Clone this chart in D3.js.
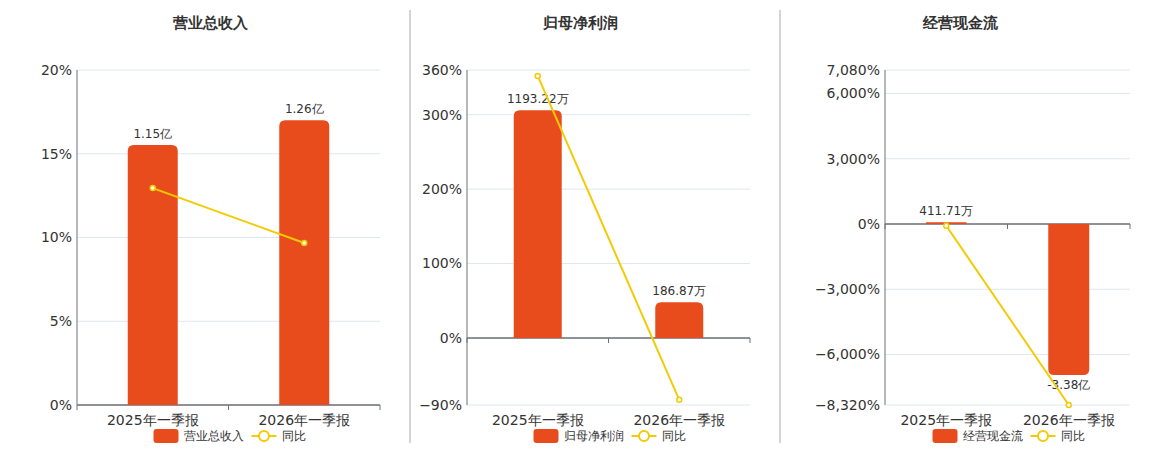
<!DOCTYPE html><html><head><meta charset="utf-8"><script src="https://cdn.jsdelivr.net/npm/d3@7"></script>
<style>body{margin:0;background:#fff;font-family:"DejaVu Sans",sans-serif}</style></head><body><svg id="c" width="1160" height="450"></svg>
<script>
const categories=["2025年一季报","2026年一季报"];
const titles=["营业总收入","归母净利润","经营现金流"];
const barValues=[[1.15e8,1.26e8],[1193.22e4,186.87e4],[411.71e4,-3.38e8]];
const barLabels=[["1.15亿","1.26亿"],["1193.22万","186.87万"],["411.71万","-3.38亿"]];
const yoyValues=[[12.95,9.67],[352,-83],[-80,-8320]];
const pctDomains=[[0,20],[-90,360],[-8320,7080]];
const pctTicks=[[0,5,10,15,20],[-90,0,100,200,300,360],[-8320,-6000,-3000,0,3000,6000,7080]];
// bar value corresponding to 1% of the percent axis
const barPerPct=[1.26e8/17,1193.22e4/306,-3.38e8/-6940];
const panels=[{x0:77,x1:380,bw:50,tx:210},{x0:467,x1:750,bw:48,tx:580},{x0:885,x1:1130,bw:41,tx:960}];
(function(){
const svg=d3.select("#c");
const yTop=70,yBot=405,barC="#e84c1c",lineC="#f2cb05";
[410,780].forEach(x=>svg.append("line").attr("x1",x).attr("x2",x).attr("y1",10).attr("y2",443).attr("stroke","#aaa"));
panels.forEach((p,i)=>{
  const g=svg.append("g");
  const y=d3.scaleLinear().domain(pctDomains[i]).range([yBot,yTop]);
  const yb=d3.scaleLinear().domain(pctDomains[i].map(d=>d*barPerPct[i])).range([yBot,yTop]);
  const x=d3.scaleBand().domain(categories).range([p.x0,p.x1]);
  g.append("text").attr("x",p.tx).attr("y",28).attr("text-anchor","middle").attr("font-size",15).attr("font-weight","bold").attr("fill","#333").text(titles[i]);
  const fmt=d3.format(",");
  pctTicks[i].forEach(t=>{
    g.append("line").attr("x1",p.x0).attr("x2",p.x1).attr("y1",y(t)).attr("y2",y(t)).attr("stroke","#e0e6f1");
    g.append("text").attr("x",p.x0-5).attr("y",y(t)).attr("dy","0.35em").attr("text-anchor","end").attr("font-size",14).attr("fill","#333").text(fmt(t)+"%");
  });
  g.append("line").attr("x1",p.x0).attr("x2",p.x0).attr("y1",yTop).attr("y2",yBot).attr("stroke","#6e7079");
  const z=y(0);
  g.append("line").attr("x1",p.x0).attr("x2",p.x1).attr("y1",z).attr("y2",z).attr("stroke","#6e7079").attr("stroke-width",1.5);
  [p.x0,p.x0+x.bandwidth(),p.x1].forEach(t=>g.append("line").attr("x1",t).attr("x2",t).attr("y1",z).attr("y2",z+5).attr("stroke","#6e7079"));
  categories.forEach((c,j)=>g.append("text").attr("x",x(c)+x.bandwidth()/2).attr("y",yBot+20).attr("text-anchor","middle").attr("font-size",14).attr("fill","#333").text(c));
  barValues[i].forEach((v,j)=>{
    const cx=x(categories[j])+x.bandwidth()/2, yv=yb(v), y0=yb(0);
    const h=Math.abs(y0-yv), r=Math.min(6,h/2), l=cx-p.bw/2, w=p.bw;
    let path;
    if(v>=0) path=`M${l},${y0}V${yv+r}Q${l},${yv} ${l+r},${yv}H${l+w-r}Q${l+w},${yv} ${l+w},${yv+r}V${y0}Z`;
    else path=`M${l},${y0}V${yv-r}Q${l},${yv} ${l+r},${yv}H${l+w-r}Q${l+w},${yv} ${l+w},${yv-r}V${y0}Z`;
    g.append("path").attr("d",path).attr("fill",barC);
    g.append("text").attr("x",cx).attr("y",v>=0?yv-7:yv+14).attr("text-anchor","middle").attr("font-size",12).attr("fill","#333").text(barLabels[i][j]);
  });
  const pts=yoyValues[i].map((v,j)=>[x(categories[j])+x.bandwidth()/2,y(v)]);
  g.append("path").attr("d",d3.line()(pts)).attr("fill","none").attr("stroke",lineC).attr("stroke-width",2);
  pts.forEach(q=>g.append("circle").attr("cx",q[0]).attr("cy",q[1]).attr("r",2.5).attr("fill","#fff").attr("stroke",lineC).attr("stroke-width",1.5));
  const lx=(p.x0+p.x1)/2-75, ly=436;
  g.append("rect").attr("x",lx).attr("y",ly-7).attr("width",25).attr("height",14).attr("rx",3).attr("fill",barC);
  g.append("text").attr("x",lx+30).attr("y",ly).attr("dy","0.35em").attr("font-size",12).attr("fill","#333").text(titles[i]);
  const l2=lx+30+titles[i].length*12+8;
  g.append("line").attr("x1",l2).attr("x2",l2+25).attr("y1",ly).attr("y2",ly).attr("stroke",lineC).attr("stroke-width",2);
  g.append("circle").attr("cx",l2+12.5).attr("cy",ly).attr("r",5).attr("fill","#fff").attr("stroke",lineC).attr("stroke-width",2);
  g.append("text").attr("x",l2+30).attr("y",ly).attr("dy","0.35em").attr("font-size",12).attr("fill","#333").text("同比");
});
})();
</script></body></html>
